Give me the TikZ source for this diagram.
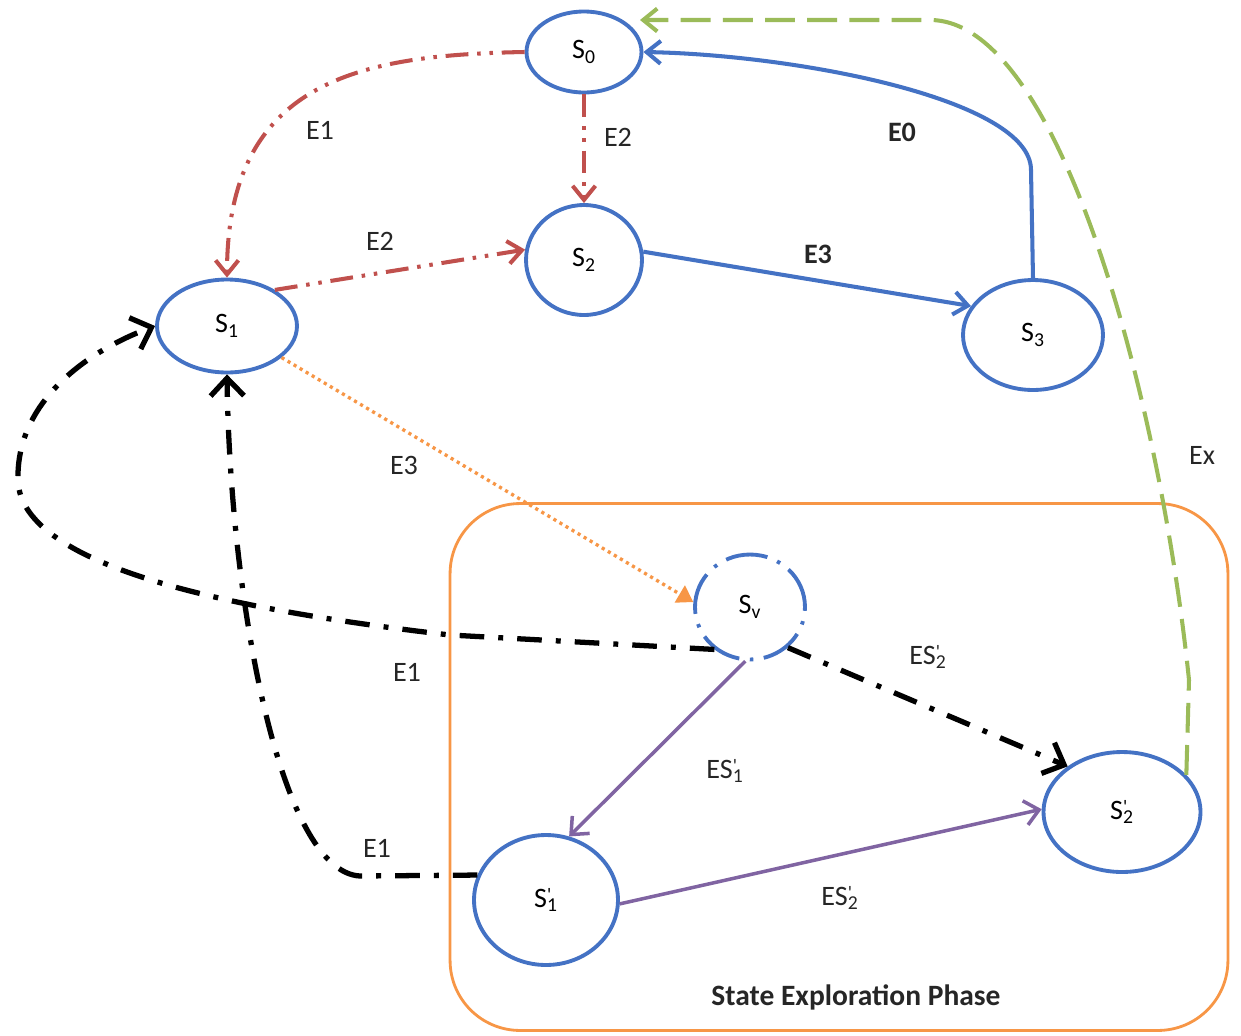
\documentclass[tikz,border=0pt]{standalone}
\usepackage{fontspec}
\setmainfont{Carlito}
\usetikzlibrary{arrows.meta,shapes.geometric}
\definecolor{oblue}{RGB}{68,114,196}
\definecolor{ored}{RGB}{192,80,77}
\definecolor{ogreen}{RGB}{155,187,89}
\definecolor{opurple}{RGB}{128,100,162}
\definecolor{oorange}{RGB}{247,150,70}
\newcommand\Sp[1]{S\rlap{\raisebox{0.45ex}{\fontsize{11}{11}\selectfont\textquotesingle}}\textsubscript{#1}}
\tikzset{
  state/.style={ellipse, draw=oblue, line width=2.2pt, inner sep=0pt},
  lbl/.style={inner sep=0pt, text=black!85},
  redline/.style={draw=ored, line width=2.3pt, dash pattern=on 13pt off 5pt on 2pt off 5pt on 2pt off 5pt, -{Straight Barb[length=8pt,width=13pt]}},
  blueline/.style={draw=oblue, line width=2.3pt, -{Straight Barb[length=8pt,width=13pt]}},
  greenline/.style={draw=ogreen, line width=2.3pt, dash pattern=on 17pt off 7pt, -{Straight Barb[length=8pt,width=13pt]}},
  blackline/.style={draw=black, line width=3pt, dash pattern=on 14pt off 8pt on 2.8pt off 8pt, -{Straight Barb[length=10pt,width=19pt]}},
  purpleline/.style={draw=opurple, line width=2pt, -{Straight Barb[length=8pt,width=14pt]}},
  orangeline/.style={draw=oorange, line width=1.9pt, dash pattern=on 1.8pt off 2.2pt, -{Triangle[length=9pt,width=11pt]}},
}
\begin{document}
\begin{tikzpicture}[x=0.02cm, y=-0.02cm, font=\fontsize{16}{18}\selectfont]
\useasboundingbox (0,0) rectangle (1241,1035);
% phase box
\node[draw=oorange, line width=1.6pt, rounded corners=1.4cm, minimum width=15.56cm, minimum height=10.54cm, inner sep=0pt] (box) at (839,767) {};
\node[font=\fontsize{16.8}{18}\selectfont\bfseries, lbl] (phase) at (856,997) {State Exploration Phase};
% states
\node[state, minimum width=2.3cm, minimum height=1.62cm] (s0) at (584,52) {S\textsubscript{0}};
\node[state, minimum width=2.32cm, minimum height=2.2cm] (s2) at (584,260) {S\textsubscript{2}};
\node[state, minimum width=2.8cm, minimum height=1.86cm] (s1) at (227,326) {S\textsubscript{1}};
\node[state, minimum width=2.8cm, minimum height=2.2cm] (s3) at (1033,335) {S\textsubscript{3}};
\node[state, dash pattern=on 24pt off 6pt on 2pt off 6pt, minimum width=2.2cm, minimum height=2.1cm] (sv) at (750,607) {S\textsubscript{v}};
\node[state, minimum width=3.14cm, minimum height=2.4cm] (s2p) at (1122,812) {\Sp{2}};
\node[state, minimum width=2.88cm, minimum height=2.6cm] (s1p) at (546,900) {\Sp{1}};
\coordinate (gtip) at (640,20);
% connectors
\draw[redline] (s0.west) .. controls (360,55) and (227,80) .. (s1.north);
\draw[redline] (s0.south) -- (s2.north);
\draw[redline] (s1.37) -- (s2.170);
\draw[blueline] (s2.8) -- (s3.155);
\draw[blueline] (s3.north) -- (1031,170) .. controls (1031,100) and (800,55) .. (s0.east);
\draw[greenline] (s2p.30) -- (1189,680) .. controls (1160,400) and (1060,20) .. (930,20) -- (gtip);
\draw[orangeline] (s1.-30) -- (sv.175);
\draw[blackline] (sv.230) -- (450,635) .. controls (250,612) and (20,570) .. (18,480) .. controls (16,400) and (90,350) .. (s1.west);
\draw[blackline] (s1p.160) -- (360,876) .. controls (280,872) and (230,600) .. (s1.south);
\draw[blackline] (sv.-47) -- (s2p.140);
\draw[purpleline] (sv.265) -- (s1p.70);
\draw[purpleline] (s1p.-3) -- (s2p.178);
% labels
\node[lbl] (l1) at (320,130) {E1};
\node[lbl] (l2) at (618,137) {E2};
\node[lbl] (l3) at (380,241) {E2};
\node[lbl, font=\fontsize{16}{18}\selectfont\bfseries] (l4) at (818,254) {E3};
\node[lbl, font=\fontsize{16}{18}\selectfont\bfseries] (l5) at (902,132) {E0};
\node[lbl] (l6) at (1202,455) {Ex};
\node[lbl] (l7) at (404,465) {E3};
\node[lbl] (l8) at (407,672) {E1};
\node[lbl] (l9) at (928,657) {E\Sp{2}};
\node[lbl] (l10) at (725,771) {E\Sp{1}};
\node[lbl] (l11) at (377,848) {E1};
\node[lbl] (l12) at (840,898) {E\Sp{2}};
\end{tikzpicture}
\end{document}
